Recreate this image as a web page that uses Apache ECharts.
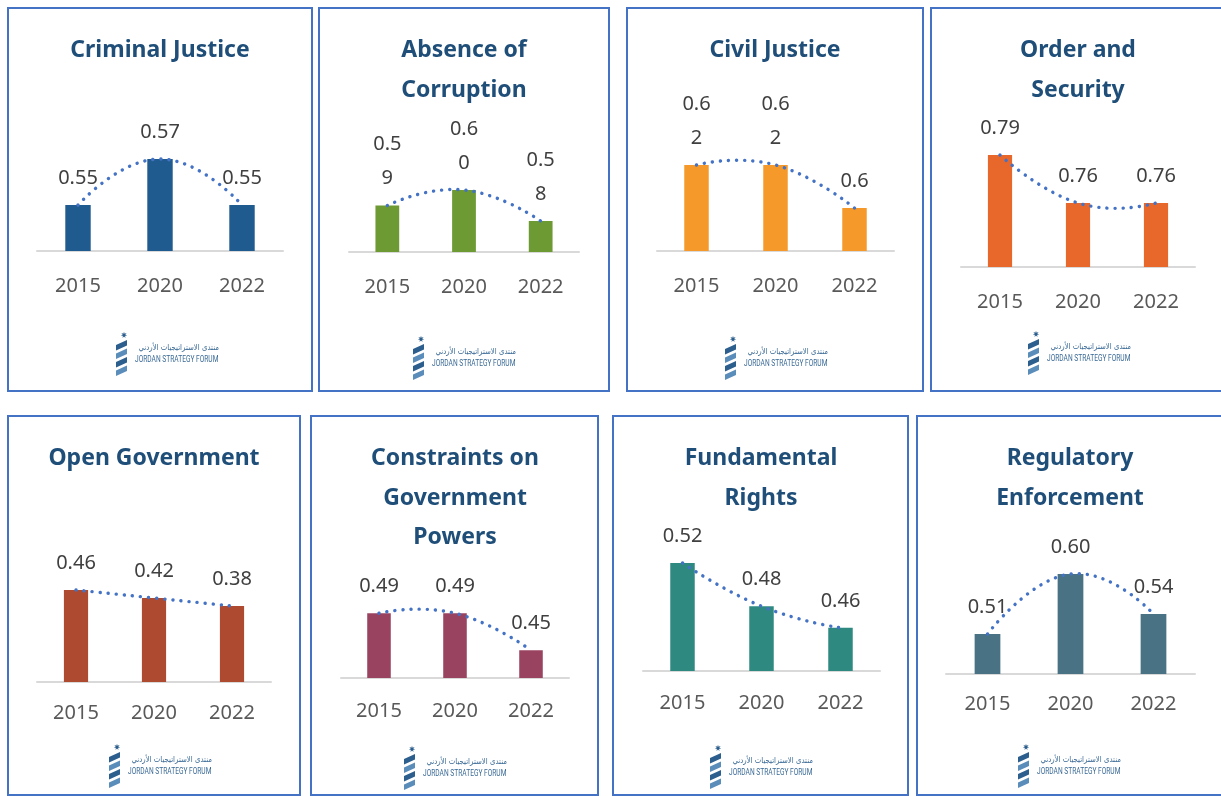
<!DOCTYPE html>
<html>
<head>
<meta charset="utf-8">
<title>Rule of Law indicators - Jordan</title>
<script src="https://cdn.jsdelivr.net/npm/echarts@6/dist/echarts.min.js"></script>
<style>
  html, body { margin: 0; padding: 0; background: #fff; }
  #chart { width: 1221px; height: 796px; }
</style>
</head>
<body>
<div id="chart"></div>
<script>
// ---- data ----
var years = ['2015', '2020', '2022'];
var titles = ['Criminal Justice', 'Absence of\nCorruption', 'Civil Justice', 'Order and\nSecurity',
  'Open Government', 'Constraints on\nGovernment\nPowers', 'Fundamental\nRights', 'Regulatory\nEnforcement'];
var criminalJustice = [0.55, 0.57, 0.55];
var absenceOfCorruption = [0.59, 0.60, 0.58];
var civilJustice = [0.62, 0.62, 0.6];
var orderAndSecurity = [0.79, 0.76, 0.76];
var openGovernment = [0.46, 0.42, 0.38];
var constraintsOnPowers = [0.49, 0.49, 0.45];
var fundamentalRights = [0.52, 0.48, 0.46];
var regulatoryEnforcement = [0.51, 0.60, 0.54];
// value axis range of each small chart (axes are hidden)
var axisMin = [0.53, 0.56, 0.58, 0.72, 0, 0.42, 0.42, 0.45];
var axisMax = [0.58, 0.61, 0.63, 0.80, 0.5, 0.50, 0.53, 0.62];
// civil justice uses excel "general" format, the rest 2 decimals
var labelDecimals = [2, 2, null, 2, 2, 2, 2, 2];
var wrapLabels = [false, true, true, false, false, false, false, false];

var panelValues = [criminalJustice, absenceOfCorruption, civilJustice, orderAndSecurity,
  openGovernment, constraintsOnPowers, fundamentalRights, regulatoryEnforcement];

// ---- layout / style ----
var barColors = ['#1F5B8E', '#6E9A33', '#F5992A', '#E8672A', '#AE4A2F', '#9A4360', '#2E8A80', '#4A7285'];
var boxes = [[8, 8, 312, 391], [319, 8, 609, 391], [627, 8, 923, 391], [931, 8, 1226, 391],
  [8, 416, 300, 795], [311, 416, 598, 795], [613, 416, 908, 795], [917, 416, 1226, 795]];
// [left, right, top, bottom] of each plot area
var plots = [[37, 283, 136, 251], [349, 579, 174.5, 252], [657, 894, 143.5, 251], [961, 1195, 139, 267],
  [37, 271, 582, 682], [341, 569, 604, 678], [643, 880, 552.2, 671], [946, 1195, 560.6, 674]];
var titleCenters = [160, 464, 775, 1078, 154, 455, 761, 1070];
var labelGap = [25, 25, 25, 25, 21, 23, 22, 20];
var logoAt = [[135, 348], [432, 352], [744, 352], [1047, 347], [128, 760], [423, 762], [729, 761], [1037, 760]];

var FONT = '"Noto Sans", "Open Sans", sans-serif';
var SMOOTH = 0.25;

function valueText(v, i) {
  var s = labelDecimals[i] == null ? String(v) : v.toFixed(labelDecimals[i]);
  if (wrapLabels[i] && s.length > 3) {
    s = s.slice(0, 3) + '\n' + s.slice(3);
  }
  return s;
}

// excel-like smoothed trend line through the bar tops
function trendRenderer(values) {
  return function (params, api) {
    if (params.dataIndex !== 0) return;
    var pts = values.map(function (v, j) { return api.coord([j, v]); });
    var last = pts.length - 1;
    var d = 'M' + pts[0][0] + ' ' + pts[0][1];
    for (var j = 0; j < last; j++) {
      var a = pts[j], b = pts[j + 1];
      var prev = pts[j - 1] || a, next = pts[j + 2] || b;
      var c1 = j === 0 ? a : [a[0] + (b[0] - prev[0]) * SMOOTH, a[1] + (b[1] - prev[1]) * SMOOTH];
      var c2 = j + 1 === last ? b : [b[0] - (next[0] - a[0]) * SMOOTH, b[1] - (next[1] - a[1]) * SMOOTH];
      d += ' C' + c1[0] + ' ' + c1[1] + ' ' + c2[0] + ' ' + c2[1] + ' ' + b[0] + ' ' + b[1];
    }
    return {
      type: 'path',
      shape: { pathData: d },
      style: { fill: 'none', stroke: '#4472C4', lineWidth: 3.4, lineDash: [0.1, 8], lineCap: 'round' }
    };
  };
}

function logo(tx, ty) {
  var children = [];
  for (var k = 0; k < 4; k++) {
    var y = ty - 8 + k * 8.5;
    children.push({
      type: 'polygon',
      shape: { points: [[tx - 19, y + 5], [tx - 8, y], [tx - 8, y + 5.5], [tx - 19, y + 10.5]] },
      style: { fill: k % 2 ? '#5B8DBA' : '#2C5F8E' }
    });
  }
  var star = [];
  for (var s = 0; s < 14; s++) {
    var r = s % 2 ? 1.4 : 3.3;
    var ang = -Math.PI / 2 + s * Math.PI / 7;
    star.push([tx - 11 + r * Math.cos(ang), ty - 13 + r * Math.sin(ang)]);
  }
  children.push({ type: 'polygon', shape: { points: star }, style: { fill: '#2C5F8E' } });
  children.push({
    type: 'text', x: tx + 84, y: ty, scaleX: 0.82,
    style: { text: 'منتدى الاستراتيجيات الأردني', align: 'right', verticalAlign: 'middle',
      font: '8.5px "DejaVu Sans", sans-serif', fill: '#3A6A96' }
  });
  children.push({
    type: 'text', x: tx, y: ty + 12, scaleX: 0.78,
    style: { text: 'JORDAN STRATEGY FORUM', align: 'left', verticalAlign: 'middle',
      font: '8.5px Roboto, sans-serif', fill: '#3A6A96' }
  });
  return { type: 'group', children: children };
}

var option = {
  animation: false,
  backgroundColor: '#ffffff',
  title: [], grid: [], xAxis: [], yAxis: [], series: [], graphic: []
};

panelValues.forEach(function (values, i) {
  var p = plots[i];
  var b = boxes[i];
  option.graphic.push({
    type: 'rect',
    shape: { x: b[0], y: b[1], width: b[2] - b[0], height: b[3] - b[1] },
    style: { fill: 'none', stroke: '#4472C4', lineWidth: 2 }
  });
  option.graphic.push(logo(logoAt[i][0], logoAt[i][1]));
  option.title.push({
    text: titles[i],
    left: titleCenters[i],
    top: i < 4 ? 31 : 439,
    textAlign: 'center',
    padding: 0,
    textStyle: { fontFamily: FONT, fontWeight: 'bold', fontSize: 23, lineHeight: 39.5, color: '#1F4E79' }
  });
  option.grid.push({ left: p[0], top: p[2], width: p[1] - p[0], height: p[3] - p[2], outerBoundsMode: 'none' });
  option.xAxis.push({
    type: 'category', gridIndex: i, data: years,
    axisLine: { onZero: false, lineStyle: { color: '#D9D9D9', width: 2 } },
    axisTick: { show: false },
    axisLabel: { margin: labelGap[i], fontSize: 20, color: '#595959', fontFamily: FONT }
  });
  option.yAxis.push({ type: 'value', gridIndex: i, min: axisMin[i], max: axisMax[i], show: false });
  option.series.push({
    type: 'bar', xAxisIndex: i, yAxisIndex: i, data: values, barWidth: '31%',
    itemStyle: { color: barColors[i] },
    label: {
      show: true, position: 'top', distance: 10, fontSize: 20, lineHeight: 34,
      fontFamily: FONT, color: '#404040',
      formatter: function (prm) { return valueText(prm.value, i); }
    }
  });
  option.series.push({
    type: 'custom', xAxisIndex: i, yAxisIndex: i, data: values, z: 3, clip: false,
    renderItem: trendRenderer(values)
  });
});

var chart = echarts.init(document.getElementById('chart'));
chart.setOption(option);
window.addEventListener('resize', function () { chart.resize(); });
</script>
</body>
</html>
